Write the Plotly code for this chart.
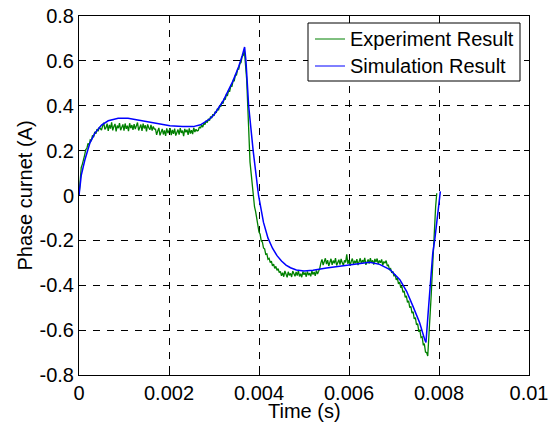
import plotly.graph_objects as go

# ---------------- data ----------------
# Simulation result: time (ms) and phase current (A)
sim_time_ms = [0.00, 0.05, 0.13, 0.24, 0.35, 0.50, 0.65, 0.87, 1.09, 1.39,
               1.68, 2.02, 2.30, 2.54, 2.70, 2.91, 3.00, 3.20, 3.42, 3.55,
               3.63, 3.68, 3.71, 3.77, 3.87, 3.99, 4.10, 4.20, 4.30, 4.40,
               4.50, 4.60, 4.70, 4.83, 5.00, 5.20, 5.50, 6.00, 6.46, 6.68,
               6.91, 7.13, 7.28, 7.42, 7.57, 7.68, 7.71, 7.76, 7.81, 7.86,
               7.91, 7.97, 8.03]
sim_current = [0.000, 0.090, 0.158, 0.233, 0.277, 0.314, 0.333, 0.344, 0.344, 0.333,
               0.321, 0.311, 0.307, 0.307, 0.315, 0.342, 0.360, 0.420, 0.510, 0.575,
               0.625, 0.662, 0.600, 0.400, 0.200, 0.000, -0.120, -0.190, -0.235, -0.268,
               -0.292, -0.310, -0.322, -0.332, -0.336, -0.333, -0.323, -0.310, -0.298, -0.307,
               -0.330, -0.375, -0.427, -0.493, -0.567, -0.641, -0.655, -0.520, -0.380, -0.260,
               -0.190, -0.090, 0.018]

# Experiment result: sampled every 0.025 ms, phase current (A), in consecutive pieces
exp_sample_ms = 0.025
exp_rise = [0.000, 0.070, 0.125, 0.140, 0.170, 0.180, 0.205, 0.210, 0.232, 0.225,
            0.248, 0.245, 0.268, 0.260, 0.284, 0.275, 0.296, 0.286, 0.304, 0.295]
exp_plateau_1 = [0.292, 0.310, 0.324, 0.295, 0.302, 0.320, 0.288, 0.315, 0.298, 0.326,
                 0.290, 0.308, 0.319, 0.286, 0.312, 0.300, 0.323, 0.291, 0.306, 0.317,
                 0.289, 0.321, 0.297, 0.311, 0.287, 0.322, 0.300, 0.314, 0.292, 0.318,
                 0.296, 0.309, 0.325, 0.290, 0.305, 0.316, 0.288, 0.320, 0.299, 0.313,
                 0.286, 0.317, 0.302, 0.293, 0.315, 0.289, 0.308, 0.296]
exp_plateau_2 = [0.296, 0.270, 0.288, 0.301, 0.268, 0.283, 0.297, 0.272, 0.290, 0.266,
                 0.299, 0.278, 0.286, 0.300, 0.269, 0.292, 0.275, 0.298, 0.267, 0.285,
                 0.294, 0.271, 0.300, 0.279, 0.289, 0.265, 0.297, 0.282, 0.293, 0.270,
                 0.299, 0.276, 0.291, 0.274, 0.302, 0.283, 0.295, 0.288]
exp_to_peak = [0.290, 0.306, 0.300, 0.314, 0.305, 0.322, 0.316, 0.333, 0.325, 0.341,
               0.334, 0.352, 0.345, 0.362, 0.355, 0.374, 0.368, 0.387, 0.380, 0.401,
               0.395, 0.417, 0.410, 0.432, 0.427, 0.450, 0.446, 0.469, 0.466, 0.490,
               0.488, 0.512, 0.511, 0.536, 0.537, 0.562, 0.563, 0.589, 0.592, 0.619,
               0.624, 0.645]
exp_fall = [0.580, 0.520, 0.400, 0.230, 0.150, 0.100, 0.040, -0.005, -0.050, -0.072,
            -0.110, -0.130, -0.163, -0.173, -0.202, -0.207, -0.234, -0.238, -0.262, -0.260,
            -0.284, -0.280, -0.299, -0.293, -0.314, -0.306, -0.325, -0.316, -0.334, -0.326,
            -0.344]
exp_plateau_3 = [-0.338, -0.358, -0.344, -0.362, -0.336, -0.352, -0.365, -0.340, -0.356, -0.347,
                 -0.363, -0.337, -0.354, -0.360, -0.341, -0.357, -0.335, -0.361, -0.349, -0.364,
                 -0.339, -0.353, -0.343, -0.362, -0.338, -0.355, -0.346, -0.360, -0.336, -0.352,
                 -0.341, -0.358, -0.334, -0.350, -0.338, -0.325]
exp_plateau_4 = [-0.300, -0.285, -0.310, -0.292, -0.280, -0.306, -0.288, -0.314, -0.295, -0.282,
                 -0.309, -0.290, -0.302, -0.279, -0.312, -0.296, -0.286, -0.308, -0.283, -0.300,
                 -0.311, -0.289, -0.298, -0.262, -0.305, -0.287, -0.313, -0.293, -0.281, -0.307,
                 -0.291, -0.302, -0.284, -0.310, -0.294, -0.280, -0.305, -0.288, -0.299, -0.278,
                 -0.309, -0.292, -0.285, -0.303, -0.279, -0.300, -0.289, -0.308, -0.283, -0.297,
                 -0.281, -0.306, -0.290, -0.300, -0.285, -0.311, -0.294, -0.302, -0.290, -0.312]
exp_to_valley = [-0.310, -0.330, -0.326, -0.345, -0.338, -0.360, -0.352, -0.376, -0.368, -0.394,
                 -0.386, -0.411, -0.405, -0.432, -0.425, -0.454, -0.447, -0.476, -0.470, -0.500,
                 -0.494, -0.524, -0.518, -0.550, -0.544, -0.576, -0.571, -0.604, -0.600, -0.633,
                 -0.630, -0.664, -0.662, -0.698, -0.700]
exp_return = [-0.715, -0.640, -0.550, -0.450, -0.350, -0.240, -0.140, -0.050, 0.010]

exp_current = (exp_rise + exp_plateau_1 + exp_plateau_2 + exp_to_peak + exp_fall
               + exp_plateau_3 + exp_plateau_4 + exp_to_valley + exp_return)

series_names = ["Experiment Result", "Simulation Result"]
series_colors = ["#008000", "#0000ff"]

x_tick_vals = [0, 0.002, 0.004, 0.006, 0.008, 0.01]
x_tick_text = ["0", "0.002", "0.004", "0.006", "0.008", "0.01"]
y_tick_vals = [-0.8, -0.6, -0.4, -0.2, 0, 0.2, 0.4, 0.6, 0.8]
y_tick_text = ["-0.8", "-0.6", "-0.4", "-0.2", "0", "0.2", "0.4", "0.6", "0.8"]
x_title = "Time (s)"
y_title = "Phase curnet (A)"

# ---------------- figure ----------------
exp_time_s = [i * exp_sample_ms * 1e-3 for i in range(len(exp_current))]
sim_time_s = [t * 1e-3 for t in sim_time_ms]

FONT = "Liberation Sans, Arial, Helvetica, sans-serif"
W, H = 560, 429
ML, MR, MT, MB = 79, 31, 16, 54
PW, PH = W - ML - MR, H - MT - MB


def px_to_paper(px, py):
    return (px - ML) / PW, (H - MB - py) / PH


fig = go.Figure()
fig.add_trace(go.Scatter(x=exp_time_s, y=exp_current, mode="lines",
                         name=series_names[0], showlegend=False,
                         line=dict(color=series_colors[0], width=1.3)))
fig.add_trace(go.Scatter(x=sim_time_s, y=sim_current, mode="lines",
                         name=series_names[1], showlegend=False,
                         line=dict(color=series_colors[1], width=1.5)))

axis_common = dict(
    showline=True, linecolor="black", linewidth=1, mirror="ticks",
    ticks="inside", ticklen=5, tickcolor="black", tickwidth=1,
    showgrid=True, gridcolor="black", gridwidth=1, griddash="7px,7px",
    zeroline=False,
    tickfont=dict(family=FONT, size=20, color="black"),
)

fig.update_xaxes(range=[0, 0.01], tickvals=x_tick_vals, ticktext=x_tick_text,
                 **axis_common)
fig.update_yaxes(range=[-0.8, 0.8], tickvals=y_tick_vals, ticktext=y_tick_text,
                 title=dict(text=y_title, font=dict(family=FONT, size=20, color="black"),
                            standoff=1),
                 **axis_common)

# x-axis title placed as an annotation for exact vertical position
tx, ty = px_to_paper(304, 411)
annotations = [dict(text=x_title, x=tx, y=ty, xref="paper", yref="paper",
                    xanchor="center", yanchor="middle", showarrow=False,
                    font=dict(family=FONT, size=20, color="black"))]

# MATLAB-style legend box (drawn in paper coordinates)
shapes = []
bx0, by0 = px_to_paper(308, 81)
bx1, by1 = px_to_paper(520, 23)
shapes.append(dict(type="rect", xref="paper", yref="paper", x0=bx0, y0=by0, x1=bx1, y1=by1,
                   line=dict(color="black", width=1), fillcolor="white", layer="above"))
for k, row_py in enumerate([39, 66]):
    lx0, ly = px_to_paper(315, row_py)
    lx1, _ = px_to_paper(345, row_py)
    shapes.append(dict(type="line", xref="paper", yref="paper", x0=lx0, y0=ly, x1=lx1, y1=ly,
                       line=dict(color=series_colors[k], width=1), layer="above"))
    txp, typ = px_to_paper(348, row_py)
    annotations.append(dict(text=series_names[k], x=txp, y=typ, xref="paper", yref="paper",
                            xanchor="left", yanchor="middle", showarrow=False,
                            font=dict(family=FONT, size=20, color="black")))

fig.update_layout(
    width=W, height=H,
    margin=dict(l=ML, r=MR, t=MT, b=MB, autoexpand=False),
    paper_bgcolor="white", plot_bgcolor="white",
    font=dict(family=FONT, size=20, color="black"),
    showlegend=False,
    shapes=shapes,
    annotations=annotations,
)

fig.write_html("out.html",
               config={"displayModeBar": False},
               post_script="document.body.style.margin='0px';"
                           "document.body.style.overflow='hidden';")
